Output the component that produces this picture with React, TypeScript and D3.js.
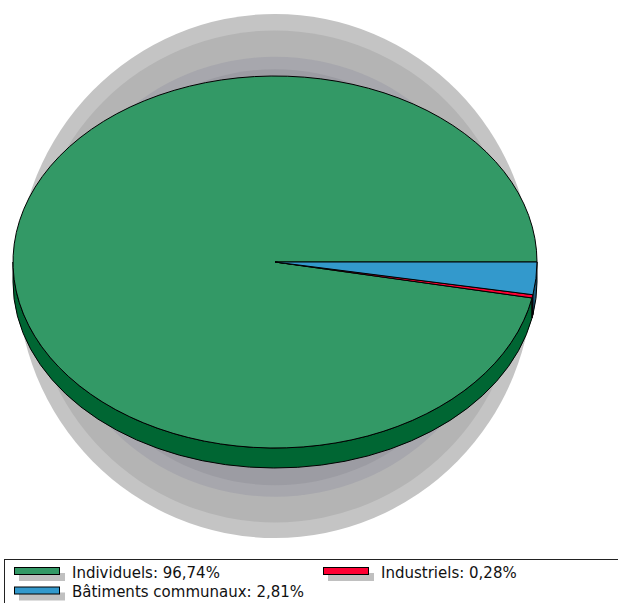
import * as d3 from 'd3'

// legend order
const categories = ['Individuels', 'Industriels', 'Bâtiments communaux']
const values = [96.74, 0.28, 2.81]
const valueLabels = ['96,74%', '0,28%', '2,81%']
const topColors = ['#339966', '#ff0033', '#3399cc']
const sideColors = ['#006633', '#99001f', '#1f5c7a']

// gray halo layers behind the pie, outer to inner
const haloColors = ['#c4c4c4', '#b4b4b4', '#a7a7ad', '#9c9ca3']
const haloRx = [258, 244, 226, 212]
const haloRy = [262, 246, 220, 208]

const W = 618
const H = 603
const cx = 275
const cy = 262
const rx = 262
const ry = 186
const depth = 20

const pt = (a: number, dy: number) => [cx + rx * Math.sin(a), cy - ry * Math.cos(a) + dy]

// front-facing part of the side wall between two d3 angles
function sidePath(a0: number, a1: number) {
  const lo = Math.min(a0, a1)
  const hi = Math.max(a0, a1)
  const ranges = [[-1.5 * Math.PI, -0.5 * Math.PI], [0.5 * Math.PI, 1.5 * Math.PI]]
  const out: string[] = []
  ranges.forEach(([r0, r1]) => {
    const s = Math.max(lo, r0)
    const e = Math.min(hi, r1)
    if (e <= s) return
    const large = e - s > Math.PI ? 1 : 0
    const [x0, y0] = pt(s, 0)
    const [x1, y1] = pt(e, 0)
    const [x2, y2] = pt(e, depth)
    const [x3, y3] = pt(s, depth)
    out.push(`M${x0},${y0}A${rx},${ry} 0 ${large} 1 ${x1},${y1}L${x2},${y2}A${rx},${ry} 0 ${large} 0 ${x3},${y3}Z`)
  })
  return out.join('')
}

export default function App() {
  const pie = d3.pie<number>()
    .sort(null)
    .startAngle(Math.PI / 2)
    .endAngle(Math.PI / 2 - 2 * Math.PI)
  const arcs = pie(values)
  const arc = d3.arc<d3.PieArcDatum<number>>().innerRadius(0).outerRadius(rx)

  const legendX = [14, 323]
  const legendY = [567, 586.5]

  return (
    <svg width={W} height={H} style={{ position: 'absolute', left: 0, top: 0, display: 'block' }}>
      <rect width={W} height={H} fill="#fff" />
      {haloColors.map((c, i) => (
        <ellipse key={i} cx={cx} cy={276 + i * 0.4} rx={haloRx[i]} ry={haloRy[i]} fill={c} />
      ))}
      {arcs.map((a, i) => (
        <path key={'s' + i} d={sidePath(a.startAngle, a.endAngle)} fill={sideColors[i]} stroke="#000" strokeWidth={1} />
      ))}
      <g transform={`translate(${cx},${cy}) scale(1,${ry / rx})`}>
        {arcs.map((a, i) => (
          <path key={'t' + i} d={arc(a) || ''} fill={topColors[i]} stroke="#000" strokeWidth={1}
            vectorEffect="non-scaling-stroke" strokeLinejoin="round" />
        ))}
      </g>
      <rect x={4.5} y={559.5} width={640} height={60} fill="#fff" stroke="#222" strokeWidth={1} />
      {categories.map((c, i) => {
        const col = i % 2
        const row = Math.floor(i / 2)
        const x = legendX[col]
        const y = legendY[row]
        return (
          <g key={'l' + i}>
            <rect x={x + 5} y={y + 6} width={46} height={8} fill="#c0c0c0" />
            <rect x={x + 0.5} y={y + 0.5} width={45} height={7} fill={topColors[i]} stroke="#000" strokeWidth={1} />
            <text x={x + 58} y={y + 10.5} fontFamily="'DejaVu Sans', Verdana, sans-serif" fontSize={15} fill="#111">
              {`${c}: ${valueLabels[i]}`}
            </text>
          </g>
        )
      })}
    </svg>
  )
}
